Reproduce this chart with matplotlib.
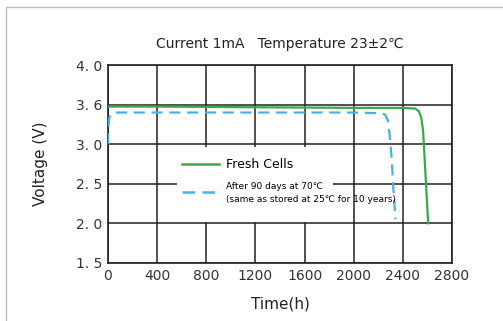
import matplotlib
matplotlib.use("Agg")
import matplotlib.pyplot as plt
from matplotlib.patches import Rectangle
import numpy as np

# discharge curves
fresh_t = [0, 400, 1200, 2000, 2400, 2500, 2530, 2550, 2565, 2585, 2606]
fresh_v = [3.57, 3.57, 3.56, 3.55, 3.55, 3.54, 3.50, 3.40, 3.20, 2.60, 2.00]
aged_t = [0, 3, 10, 30, 80, 200, 1000, 2000, 2200, 2256, 2280, 2295, 2310, 2320, 2340]
aged_v = [3.00, 3.25, 3.40, 3.46, 3.48, 3.48, 3.48, 3.48, 3.47, 3.45, 3.35, 3.10, 2.80, 2.50, 2.05]

yticks = [1.5, 2.0, 2.5, 3.0, 3.6, 4.0]
ytick_labels = ["1. 5", "2. 0", "2. 5", "3. 0", "3. 6", "4. 0"]
xticks = [0, 400, 800, 1200, 1600, 2000, 2400, 2800]
fresh_label = "Fresh Cells"
aged_label = "After 90 days at 70\u2103\n(same as stored at 25\u2103 for 10 years)"
title = "Current 1mA   Temperature 23\u00b12\u2103"

plt.rcParams["font.family"] = ["DejaVu Sans", "Noto Sans CJK SC"]

fig = plt.figure(figsize=(5.03, 3.21), dpi=100)
ax = fig.add_axes([0.2147, 0.1807, 0.6839, 0.6168])

# y axis ticks are evenly spaced although the values are not
idx = np.arange(len(yticks))
ax.set_yscale("function", functions=(lambda v: np.interp(v, yticks, idx),
                                     lambda p: np.interp(p, idx, yticks)))

ax.plot(fresh_t, fresh_v, color="#3aaa4a", lw=1.6, zorder=3)
ax.plot(aged_t, aged_v, color="#4ab0e6", lw=1.6, ls=(0, (5, 3)), zorder=3)

ax.set_xlim(0, 2800)
ax.set_ylim(1.5, 4.0)
ax.set_xticks(xticks)
ax.set_yticks(yticks)
ax.set_yticklabels(ytick_labels)
ax.tick_params(length=0, labelsize=10, colors="#333", pad=4)
ax.grid(True, color="#222", lw=1.1)
ax.set_axisbelow(True)
for s in ax.spines.values():
    s.set_color("#222")
    s.set_linewidth(1.2)

# white patch behind the legend hiding the grid
ax.add_patch(Rectangle((0.20, 0.207), 0.454, 0.379, transform=ax.transAxes,
                       facecolor="white", edgecolor="none", zorder=1))

h1, = ax.plot([], [], color="#3aaa4a", lw=1.8)
h2, = ax.plot([], [], color="#4ab0e6", lw=1.8, ls=(0, (5, 3)))
leg = ax.legend([h1, h2], [fresh_label, aged_label], loc="upper left",
                bbox_to_anchor=(0.215, 0.53), frameon=False, borderpad=0,
                borderaxespad=0, handlelength=3.0, handletextpad=0.5,
                labelspacing=0.9, fontsize=9)
leg.set_zorder(5)
t2 = leg.get_texts()[1]
t2.set_fontsize(6.5)
t2.set_linespacing(1.5)
t2.set_family(["Liberation Sans Narrow", "DejaVu Sans Condensed", "DejaVu Sans"])

ax.set_title(title, fontsize=10, color="#222", pad=12)
ax.set_xlabel("Time(h)", fontsize=11, color="#222", labelpad=10)
ax.set_ylabel("Voltage (V)", fontsize=11, color="#222", labelpad=20)

fig.add_artist(Rectangle((0.012, -0.1), 1.2, 1.078, transform=fig.transFigure,
                         fill=False, edgecolor="#bbbbbb", lw=1, clip_on=False))

fig.savefig("out.png", dpi=100, facecolor="white")
